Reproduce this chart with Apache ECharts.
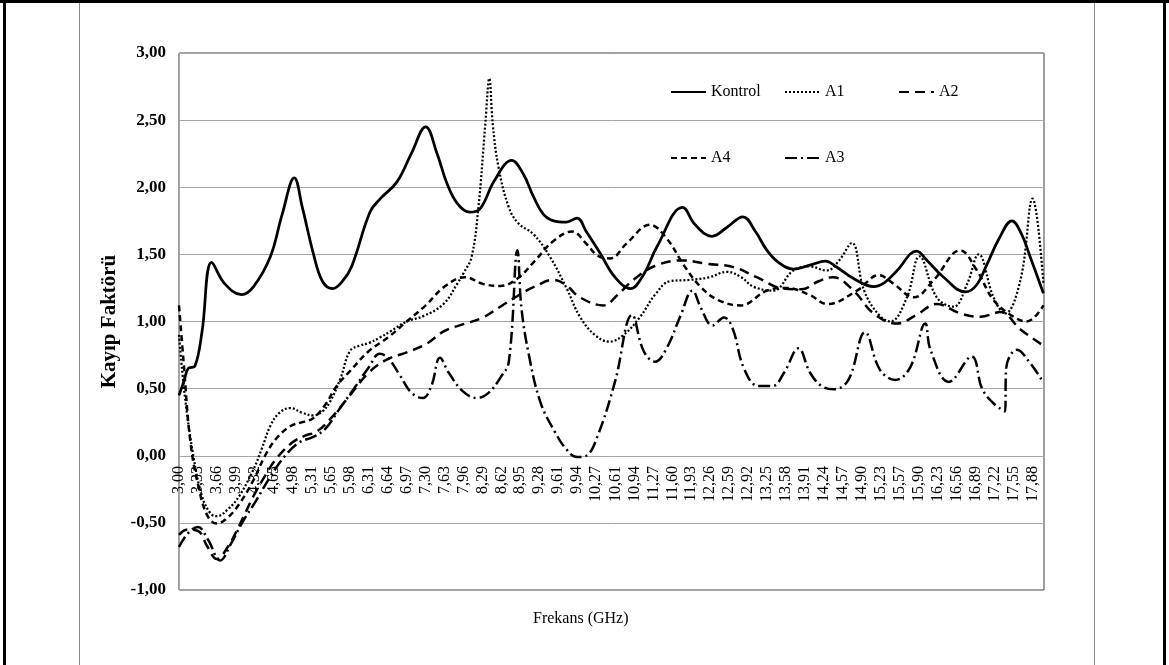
<!DOCTYPE html>
<html>
<head>
<meta charset="utf-8">
<script src="https://cdn.jsdelivr.net/npm/echarts@6/dist/echarts.min.js"></script>
<style>
  html, body { margin: 0; padding: 0; background: #fff; }
  #chart { width: 1169px; height: 665px; }
</style>
</head>
<body>
<div id="chart"></div>
<script>
// tick labels on the frequency axis (GHz)
const tickLabels = [3.00, 3.33, 3.66, 3.99, 4.32, 4.65, 4.98, 5.31, 5.65, 5.98, 6.31, 6.64, 6.97, 7.30, 7.63, 7.96,
  8.29, 8.62, 8.95, 9.28, 9.61, 9.94, 10.27, 10.61, 10.94, 11.27, 11.60, 11.93, 12.26, 12.59, 12.92, 13.25,
  13.58, 13.91, 14.24, 14.57, 14.90, 15.23, 15.57, 15.90, 16.23, 16.56, 16.89, 17.22, 17.55, 17.88];

// [frequency, loss factor]
const kontrol = [[3.00,0.45],[3.09,0.56],[3.16,0.65],[3.28,0.67],[3.40,0.92],[3.57,1.44],[3.80,1.28],[4.09,1.20],
  [4.30,1.26],[4.59,1.48],[4.80,1.80],[5.01,2.07],[5.15,1.85],[5.34,1.51],[5.50,1.30],[5.68,1.245],[5.85,1.30],
  [6.01,1.41],[6.33,1.815],[6.51,1.915],[6.80,2.04],[7.05,2.25],[7.30,2.45],[7.50,2.25],[7.67,2.03],[7.85,1.88],
  [8.07,1.815],[8.25,1.84],[8.50,2.05],[8.80,2.20],[9.00,2.10],[9.18,1.93],[9.35,1.80],[9.53,1.75],[9.75,1.74],
  [9.94,1.77],[10.10,1.67],[10.34,1.51],[10.60,1.33],[10.87,1.245],[11.10,1.35],[11.33,1.555],[11.78,1.85],
  [12.00,1.72],[12.29,1.635],[12.55,1.70],[12.83,1.78],[13.05,1.67],[13.25,1.53],[13.45,1.44],[13.71,1.39],
  [14.00,1.42],[14.27,1.45],[14.45,1.41],[14.76,1.32],[15.11,1.26],[15.30,1.29],[15.52,1.38],[15.86,1.525],
  [16.05,1.45],[16.33,1.33],[16.71,1.22],[16.90,1.27],[17.09,1.43],[17.30,1.62],[17.52,1.75],[17.70,1.64],
  [17.84,1.48],[18.07,1.21]];

const a1 = [[3.00,0.90],[3.10,0.45],[3.25,0.0],[3.40,-0.30],[3.55,-0.43],[3.66,-0.45],[3.85,-0.40],[4.05,-0.30],
  [4.30,-0.10],[4.45,0.06],[4.59,0.22],[4.75,0.32],[4.94,0.355],[5.15,0.32],[5.34,0.30],[5.50,0.33],[5.63,0.40],
  [5.81,0.57],[5.98,0.78],[6.15,0.82],[6.31,0.84],[6.50,0.88],[6.70,0.93],[6.97,1.00],[7.26,1.04],[7.61,1.13],
  [7.85,1.28],[7.96,1.36],[8.10,1.48],[8.22,1.85],[8.34,2.47],[8.41,2.81],[8.47,2.47],[8.57,2.15],[8.75,1.85],
  [8.92,1.73],[9.18,1.65],[9.47,1.48],[9.76,1.245],[9.99,1.035],[10.25,0.90],[10.50,0.85],[10.75,0.90],
  [11.04,1.035],[11.30,1.20],[11.56,1.30],[11.91,1.31],[12.25,1.33],[12.55,1.37],[12.80,1.33],[13.01,1.26],
  [13.36,1.23],[13.71,1.38],[14.00,1.41],[14.29,1.38],[14.50,1.45],[14.73,1.585],[14.94,1.235],[15.20,1.05],
  [15.40,1.00],[15.69,1.18],[15.91,1.485],[16.21,1.18],[16.50,1.11],[16.74,1.28],[16.94,1.50],[17.20,1.18],
  [17.40,1.06],[17.67,1.31],[17.88,1.915],[18.07,1.28]];

const a2 = [[3.00,-0.59],[3.15,-0.55],[3.33,-0.56],[3.50,-0.68],[3.66,-0.77],[3.85,-0.68],[4.05,-0.52],[4.30,-0.30],
  [4.50,-0.15],[4.70,-0.02],[4.98,0.10],[5.20,0.15],[5.40,0.18],[5.65,0.28],[5.98,0.45],[6.31,0.62],[6.64,0.72],
  [6.97,0.77],[7.30,0.83],[7.63,0.93],[7.96,0.98],[8.30,1.03],[8.60,1.11],[8.90,1.19],[9.20,1.26],[9.53,1.31],
  [9.75,1.27],[9.99,1.18],[10.40,1.12],[10.65,1.20],[10.92,1.31],[11.33,1.42],[11.80,1.455],[12.20,1.43],
  [12.67,1.405],[13.07,1.33],[13.54,1.245],[13.85,1.24],[14.15,1.30],[14.40,1.33],[14.76,1.23],[15.11,1.06],
  [15.52,0.985],[15.86,1.05],[16.21,1.13],[16.62,1.06],[16.97,1.035],[17.32,1.07],[17.67,0.94],[18.07,0.82]];

const a4 = [[3.00,1.12],[3.08,0.70],[3.20,0.10],[3.35,-0.25],[3.50,-0.45],[3.66,-0.505],[3.85,-0.46],[4.05,-0.36],
  [4.30,-0.18],[4.50,0.0],[4.70,0.13],[4.94,0.22],[5.15,0.25],[5.34,0.28],[5.55,0.38],[5.75,0.52],[5.98,0.63],
  [6.31,0.78],[6.64,0.88],[6.97,1.00],[7.30,1.12],[7.63,1.26],[7.99,1.33],[8.30,1.28],[8.60,1.265],[8.90,1.32],
  [9.20,1.45],[9.53,1.60],[9.85,1.67],[10.10,1.58],[10.30,1.49],[10.52,1.47],[10.80,1.58],[11.21,1.72],
  [11.50,1.62],[11.80,1.42],[12.09,1.26],[12.40,1.16],[12.79,1.12],[13.25,1.23],[13.60,1.25],[14.00,1.196],
  [14.30,1.13],[14.82,1.23],[15.20,1.345],[15.46,1.28],[15.81,1.18],[16.16,1.31],[16.62,1.53],[16.91,1.38],
  [17.20,1.16],[17.55,1.035],[17.78,1.00],[18.07,1.12]];

const a3 = [[3.00,-0.68],[3.15,-0.58],[3.33,-0.53],[3.50,-0.62],[3.72,-0.78],[3.90,-0.66],[4.10,-0.50],[4.35,-0.33],
  [4.60,-0.15],[4.85,0.0],[5.10,0.10],[5.34,0.14],[5.55,0.20],[5.80,0.35],[6.05,0.50],[6.31,0.66],[6.50,0.76],
  [6.64,0.73],[6.85,0.60],[7.05,0.47],[7.25,0.43],[7.40,0.52],[7.55,0.73],[7.70,0.62],[7.95,0.48],[8.20,0.43],
  [8.40,0.47],[8.60,0.58],[8.75,0.70],[8.90,1.53],[8.97,1.10],[9.10,0.75],[9.30,0.40],[9.55,0.18],[9.75,0.05],
  [9.94,-0.01],[10.10,0.0],[10.30,0.15],[10.60,0.55],[10.90,1.05],[11.10,0.78],[11.30,0.70],[11.50,0.80],
  [11.75,1.05],[11.95,1.23],[12.10,1.10],[12.30,0.97],[12.50,1.03],[12.65,0.95],[12.85,0.65],[13.10,0.52],
  [13.35,0.52],[13.55,0.62],[13.80,0.80],[14.00,0.62],[14.20,0.52],[14.41,0.495],[14.67,0.565],[14.96,0.92],
  [15.22,0.64],[15.49,0.565],[15.75,0.66],[16.01,0.985],[16.10,0.79],[16.42,0.55],[16.82,0.74],[17.00,0.50],
  [17.20,0.39],[17.40,0.33],[17.42,0.65],[17.61,0.79],[17.84,0.69],[18.04,0.565]];

const serif = 'Liberation Serif';
const fmt = v => v.toFixed(2).replace('.', ',');

function line(name, data, type, width) {
  return {
    name: name,
    type: 'line',
    data: data,
    smooth: 0.4,
    symbol: 'none',
    lineStyle: { color: '#000', width: width, type: type, cap: 'butt' },
    itemStyle: { color: '#000' },
    z: 3
  };
}

// one legend per entry so the entries sit on Excel's fixed columns
function legendAt(name, left, top) {
  return {
    data: [name],
    left: left,
    top: top,
    padding: 0,
    itemWidth: 35,
    itemHeight: 12,
    itemStyle: { opacity: 0 },
    textStyle: { fontFamily: serif, fontSize: 16, color: '#000' }
  };
}

const chart = echarts.init(document.getElementById('chart'));
chart.setOption({
  animation: false,
  backgroundColor: '#fff',
  grid: { left: 179, right: 125, top: 53, bottom: 75, show: true, borderColor: '#404040', borderWidth: 1 },
  legend: [
    legendAt('Kontrol', 670, 84),
    legendAt('A1', 784, 84),
    legendAt('A2', 898, 84),
    legendAt('A4', 670, 150),
    legendAt('A3', 784, 150)
  ],
  xAxis: {
    type: 'value',
    min: 3,
    max: 18.08,
    position: 'bottom',
    offset: -134, // axis sits on the 0,00 line
    axisLine: { onZero: false, lineStyle: { color: '#a6a6a6' } },
    axisTick: { show: false },
    splitLine: { show: false },
    axisLabel: {
      customValues: tickLabels,
      rotate: 90,
      margin: 10,
      formatter: fmt,
      fontFamily: serif,
      fontSize: 16,
      color: '#000'
    }
  },
  yAxis: {
    type: 'value',
    min: -1,
    max: 3,
    interval: 0.5,
    name: 'Kayıp Faktörü',
    nameLocation: 'middle',
    nameGap: 51,
    nameTextStyle: { fontFamily: serif, fontSize: 21, fontWeight: 'bold', color: '#000' },
    axisLine: { show: true, lineStyle: { color: '#a6a6a6' } },
    axisTick: { show: false },
    splitLine: { lineStyle: { color: '#a6a6a6' } },
    axisLabel: { formatter: fmt, margin: 13, fontFamily: serif, fontSize: 17, fontWeight: 'bold', color: '#000' }
  },
  graphic: [
    // frame of the document cell around the chart
    { type: 'rect', shape: { x: 0, y: 0, width: 1169, height: 3 }, style: { fill: '#000' } },
    { type: 'rect', shape: { x: 3, y: 0, width: 3, height: 665 }, style: { fill: '#000' } },
    { type: 'rect', shape: { x: 1163, y: 0, width: 3, height: 665 }, style: { fill: '#000' } },
    { type: 'rect', shape: { x: 79, y: 3, width: 1, height: 662 }, style: { fill: '#8c8c8c' } },
    { type: 'rect', shape: { x: 1094, y: 3, width: 1, height: 662 }, style: { fill: '#8c8c8c' } },
    {
      type: 'text', left: 533, top: 611,
      style: { text: 'Frekans (GHz)', font: '16px "Liberation Serif"', fill: '#000' }
    }
  ],
  series: [
    line('Kontrol', kontrol, 'solid', 2.75),
    line('A1', a1, [2, 2], 2.25),
    line('A2', a2, [10, 6], 2.5),
    line('A4', a4, [6, 4], 2.5),
    line('A3', a3, [12, 4, 2, 4], 2.5)
  ]
});
</script>
</body>
</html>
